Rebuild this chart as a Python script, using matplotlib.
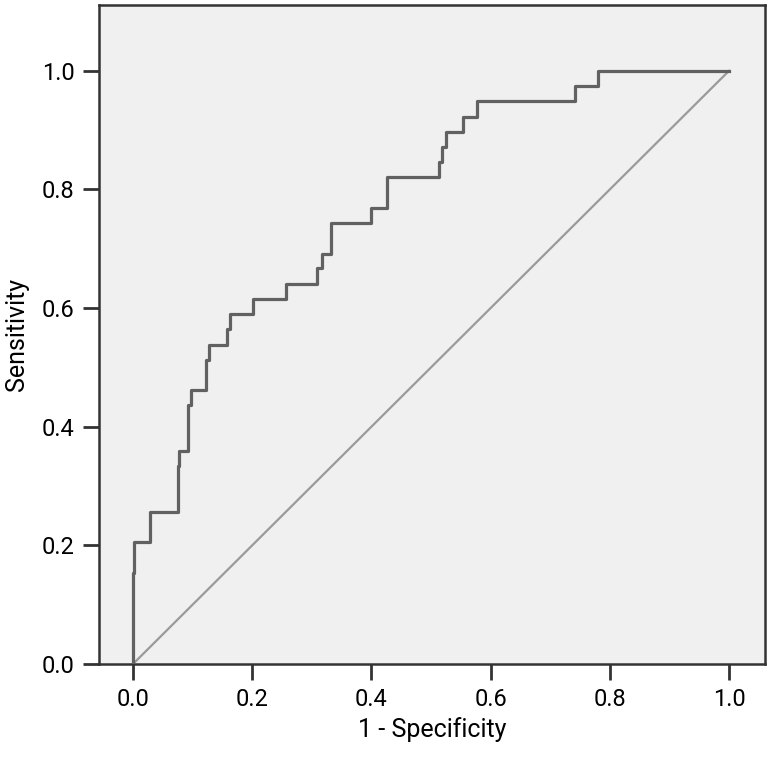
import numpy as np
import matplotlib
matplotlib.use('Agg')
import matplotlib.pyplot as plt

# ROC curve corners (x = where the horizontal run ends, y = level reached)
fpr = [0, 0.002, 0.029, 0.075, 0.078, 0.093, 0.098, 0.122, 0.127, 0.157, 0.163, 0.202, 0.256,
       0.308, 0.317, 0.332, 0.400, 0.426, 0.514, 0.518, 0.526, 0.553, 0.577, 0.742, 0.781, 1.0]
tpr = [0, 0.154, 0.205, 0.256, 0.333, 0.359, 0.436, 0.462, 0.513, 0.538, 0.564, 0.590, 0.615,
       0.641, 0.667, 0.692, 0.744, 0.769, 0.821, 0.846, 0.872, 0.897, 0.923, 0.949, 0.974, 1.0]
ref_line = [0, 1]
ticks = [0.0, 0.2, 0.4, 0.6, 0.8, 1.0]

plt.rcParams['font.family'] = ['Roboto', 'DejaVu Sans']

fig = plt.figure(figsize=(7.71, 7.58), dpi=100)
ax = fig.add_axes([0.1284, 0.124, 0.8638, 0.8694])
ax.set_facecolor('#f0f0f0')

ax.plot(ref_line, ref_line, color='#9a9a9a', linewidth=1.6, zorder=2)
ax.plot(fpr, tpr, drawstyle='steps-pre', color='#616161', linewidth=2.3, zorder=3)

ax.set_xlim(-0.057, 1.0604)
ax.set_ylim(0, 1.111)
ax.set_xticks(ticks)
ax.set_yticks(ticks)
ax.set_xticklabels(['%.1f' % t for t in ticks])
ax.set_yticklabels(['%.1f' % t for t in ticks])

for s in ax.spines.values():
    s.set_color('#333333')
    s.set_linewidth(1.8)
ax.tick_params(axis='both', direction='out', length=11.5, width=2, color='#333333',
               labelsize=17, pad=6)

ax.set_xlabel('1 - Specificity', size=18, labelpad=4)
ax.set_ylabel('Sensitivity', size=18, labelpad=9)

plt.savefig('out.png', dpi=100)
